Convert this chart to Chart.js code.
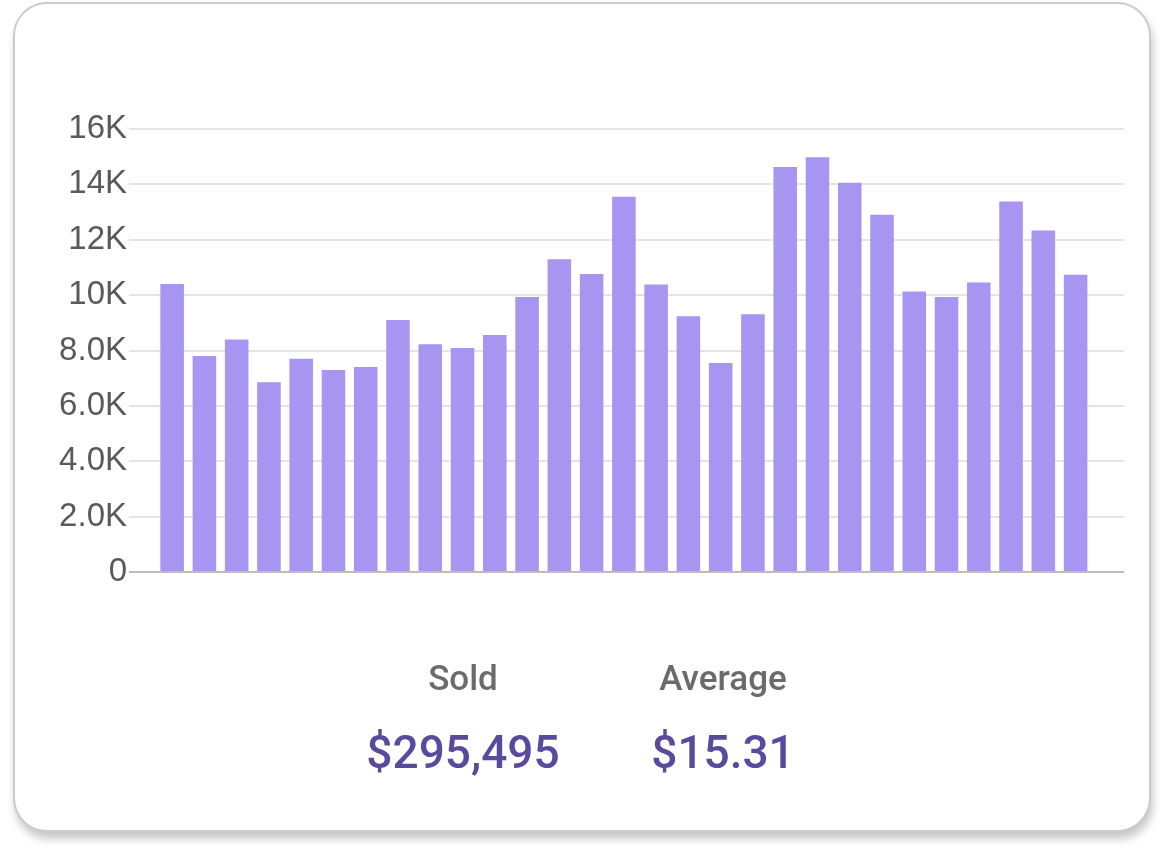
<!DOCTYPE html>
<html>
<head>
<meta charset="utf-8">
<script src="https://cdn.jsdelivr.net/npm/chart.js@4/dist/chart.umd.min.js"></script>
<style>
  body { margin: 0; background: #fff; width: 1164px; height: 858px; overflow: hidden; position: relative; }
  .card {
    position: absolute; left: 13px; top: 2px; width: 1138px; height: 830px;
    box-sizing: border-box; border: 2.5px solid #cbcbcb; border-radius: 34px;
    background: #fff; box-shadow: 2px 7px 9px rgba(0,0,0,0.22);
  }
  #wrap { position: absolute; left: 0; top: 0; width: 1164px; height: 858px; }
  .stat { position: absolute; width: 260px; text-align: center; font-family: Roboto, sans-serif; font-weight: 500; }
  .lbl { font-size: 35px; line-height: 35px; color: #6b6b6b; top: 661px; }
  .val { font-size: 46px; line-height: 46px; color: #594a9d; top: 729px; }
</style>
</head>
<body>
<div class="card"></div>
<div id="wrap"><canvas id="salesChart" width="1164" height="858"></canvas></div>
<div class="stat lbl" style="left:333px">Sold</div>
<div class="stat lbl" style="left:593px">Average</div>
<div class="stat val" style="left:333px">$295,495</div>
<div class="stat val" style="left:593px">$15.31</div>
<script>
// one bar per day, last day has no sales yet
const days = ["1","2","3","4","5","6","7","8","9","10","11","12","13","14","15",
              "16","17","18","19","20","21","22","23","24","25","26","27","28","29","30"];
const sold = [10400, 7800, 8400, 6850, 7700, 7300, 7400, 9100, 8230, 8090,
              8560, 9930, 11300, 10760, 13550, 10380, 9240, 7550, 9310, 14630,
              14980, 14060, 12900, 10130, 9930, 10460, 13380, 12330, 10740];
const yTicks = [0, 2000, 4000, 6000, 8000, 10000, 12000, 14000, 16000];
const yTickLabels = ["0", "2.0K", "4.0K", "6.0K", "8.0K", "10K", "12K", "14K", "16K"];

const ctx = document.getElementById("salesChart").getContext("2d");

new Chart(ctx, {
    type: "bar",
    data: {
        labels: days,
        datasets: [{
            label: "Sold",
            data: sold,
            backgroundColor: "#a895f1",
            barPercentage: 0.73,
            categoryPercentage: 1.0
        }]
    },
    options: {
        responsive: false,
        animation: false,
        layout: { padding: { top: 129, bottom: 286, left: 0, right: 40 } },
        plugins: { legend: { display: false }, tooltip: { enabled: false } },
        scales: {
            x: { display: false },
            y: {
                min: 0,
                max: 16000,
                afterFit: (scale) => { scale.width = 156; },
                afterBuildTicks: (scale) => { scale.ticks = yTicks.map(v => ({ value: v })); },
                border: { display: false },
                grid: {
                    lineWidth: 2,
                    tickLength: 27,
                    color: (c) => c.tick && c.tick.value === 0 ? "#bdbdbd" : "#e4e4e4"
                },
                ticks: {
                    padding: 2,
                    color: "#5a5a5a",
                    font: { family: "'Liberation Sans', Arial, sans-serif", size: 33 },
                    callback: (v) => yTickLabels[yTicks.indexOf(v)]
                }
            }
        }
    }
});
</script>
</body>
</html>
